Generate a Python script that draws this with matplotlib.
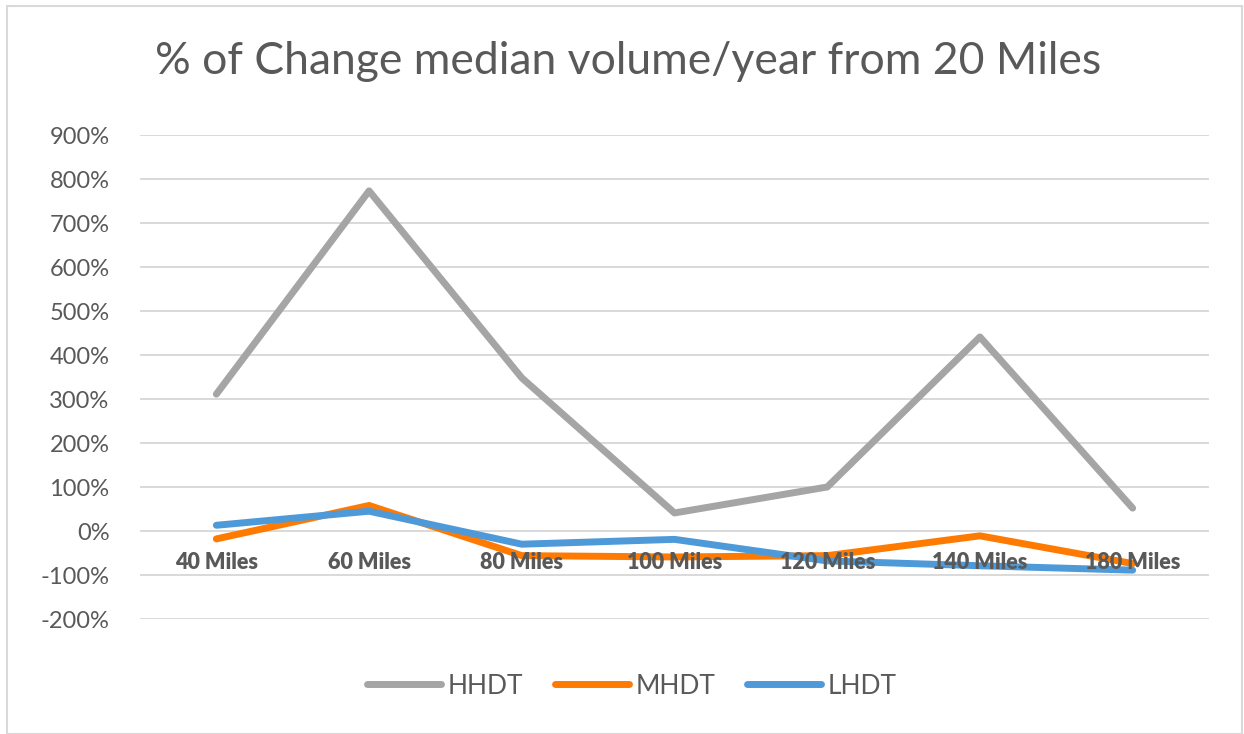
import matplotlib
matplotlib.use("Agg")
import matplotlib.pyplot as plt
from matplotlib.ticker import FuncFormatter, MultipleLocator
from matplotlib.patches import Rectangle

categories = ["40 Miles", "60 Miles", "80 Miles", "100 Miles", "120 Miles", "140 Miles", "180 Miles"]
hhdt = [311, 773, 348, 41, 100, 441, 52]
mhdt = [-18, 58, -56, -59, -56, -11, -74]
lhdt = [13, 45, -30, -19, -68, -79, -89]
series_names = ["HHDT", "MHDT", "LHDT"]
colors = ["#A5A5A5", "#FF7A00", "#4E9AD9"]

plt.rcParams['font.family'] = ['Lato', 'DejaVu Sans']
W, H = 1244, 734
fig = plt.figure(figsize=(W / 100, H / 100), dpi=100)
ax = fig.add_axes([140 / W, (H - 619) / H, (1209 - 140) / W, (619 - 135) / H])

x = list(range(len(categories)))
for name, vals, c in zip(series_names, [hhdt, mhdt, lhdt], colors):
    ax.plot(x, vals, color=c, lw=5, solid_capstyle='round', solid_joinstyle='round', label=name)

ax.set_xlim(-0.5, len(categories) - 0.5)
ax.set_ylim(-200, 900)
ax.yaxis.set_major_locator(MultipleLocator(100))
ax.yaxis.set_major_formatter(FuncFormatter(lambda v, p: f"{int(round(v))}%"))
ax.grid(axis='y', color='#D9D9D9', lw=1.4)
ax.set_axisbelow(True)
ax.xaxis.set_zorder(5)
for s in ['top', 'right', 'left']:
    ax.spines[s].set_visible(False)
ax.spines['bottom'].set_position(('data', 0))
ax.spines['bottom'].set_visible(False)
ax.set_xticks(x)
ax.set_xticklabels(categories, fontsize=15.5, fontweight='heavy', color='#595959')
ax.tick_params(axis='x', length=0, pad=15)
ax.tick_params(axis='y', length=0, pad=22, labelsize=17, labelcolor='#595959')

fig.text(628 / W, 1 - 62 / H, "% of Change median volume/year from 20 Miles",
         ha='center', va='center', fontsize=32, color='#595959')

leg = ax.legend(loc='center', bbox_to_anchor=(632 / W, 1 - 686 / H), bbox_transform=fig.transFigure,
                ncol=3, frameon=False, fontsize=19, handlelength=2.8, handletextpad=0.25,
                columnspacing=1.2, labelcolor='#595959')

fig.patches.append(Rectangle((7 / W, 0), (W - 7) / W - 2 / W, 1 - 6 / H, transform=fig.transFigure,
                             fill=False, edgecolor='#D9D9D9', lw=1.5))

fig.savefig("out.png", dpi=100)
